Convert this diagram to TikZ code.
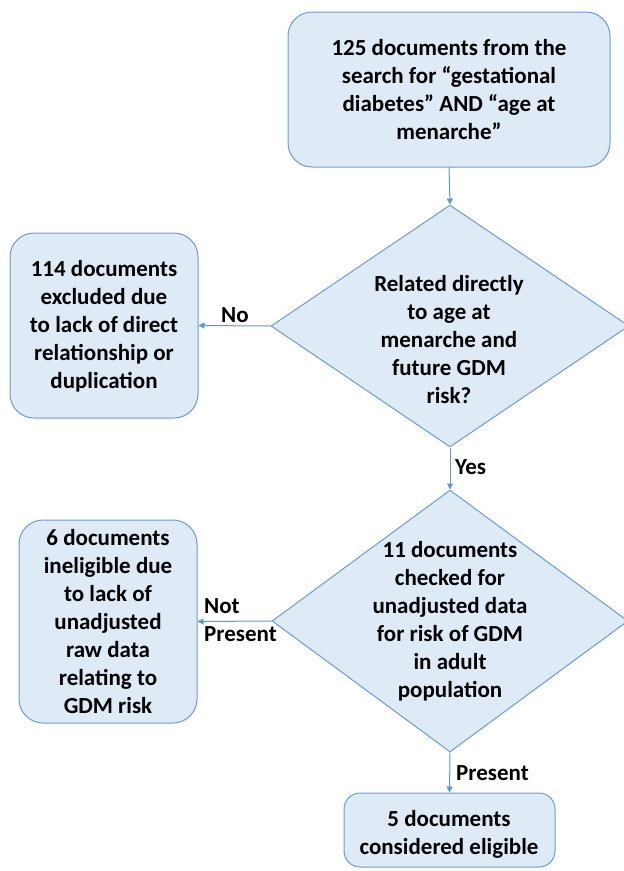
\documentclass[tikz,border=0pt]{standalone}
\usepackage{fontspec}
\setmainfont{Carlito}
\usetikzlibrary{shapes.geometric,arrows.meta}
\definecolor{boxfill}{HTML}{DEEBF7}
\definecolor{boxline}{HTML}{6D9CCC}
\definecolor{arrowc}{HTML}{5B9BD5}
\begin{document}
\begin{tikzpicture}[x=1pt,y=-1pt,
  txt/.style={font=\fontsize{23}{28}\selectfont\bfseries, align=center, inner sep=0pt},
  lbl/.style={font=\fontsize{23}{28}\selectfont\bfseries, inner sep=0pt},
  rbox/.style={draw=boxline, fill=boxfill, line width=1pt, rounded corners=24pt, inner sep=0pt},
  dbox/.style={draw=boxline, fill=boxfill, line width=1pt, diamond, inner sep=0pt},
  conn/.style={draw=arrowc, line width=1pt, -{Triangle[width=6pt,length=6pt]}}]
\useasboundingbox (0,0) rectangle (624,871);
\fill[white] (0,0) rectangle (624,871);
% boxes
\node[rbox, minimum width=322pt, minimum height=155pt] (top) at (449,89.5) {};
\node[rbox, minimum width=188pt, minimum height=185pt] (left1) at (104,325.5) {};
\node[rbox, minimum width=178pt, minimum height=203pt] (left2) at (108,621.5) {};
\node[rbox, rounded corners=16pt, minimum width=211pt, minimum height=74pt] (bottom) at (449.5,830) {};
\node[dbox, minimum width=358pt, minimum height=242pt] (d1) at (450,326) {};
\node[dbox, minimum width=356pt, minimum height=262pt] (d2) at (450,621) {};
% texts
\node[txt] (ttop) at (449,90) {125 documents from the\\search for “gestational\\diabetes” AND “age at\\menarche”};
\node[txt] (tleft1) at (104,326) {114 documents\\excluded due\\to lack of direct\\relationship or\\duplication};
\node[txt] (tleft2) at (108,621.5) {6 documents\\ineligible due\\to lack of\\unadjusted\\raw data\\relating to\\GDM risk};
\node[txt] (tbottom) at (449,834) {5 documents\\considered eligible};
\node[txt] (td1) at (449,340) {Related directly\\to age at\\menarche and\\future GDM\\risk?};
\node[txt] (td2) at (450,621) {11 documents\\checked for\\unadjusted data\\for risk of GDM\\in adult\\population};
% connectors
\draw[conn] (top.south) -- (d1.north);
\draw[conn] (d1.west) -- (left1.east);
\draw[conn] (d1.south) -- (d2.north);
\draw[conn] (d2.west) -- (left2.east);
\draw[conn] (d2.south) -- (bottom.north);
% labels
\node[lbl] (lno) at (235,315) {No};
\node[lbl, anchor=west] (lyes) at (455,467) {Yes};
\node[lbl, anchor=west, align=left] (lnot) at (204,620) {Not\\Present};
\node[lbl, anchor=west] (lpres) at (456,773) {Present};
\end{tikzpicture}
\end{document}
